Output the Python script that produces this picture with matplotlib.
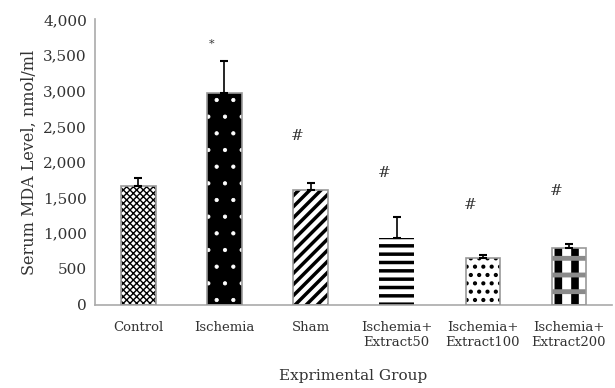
import matplotlib.pyplot as plt
import numpy as np

plt.rcParams['font.family'] = ['DejaVu Serif']
plt.rcParams['text.color'] = '#333333'
plt.rcParams['xtick.color'] = '#333333'
plt.rcParams['ytick.color'] = '#333333'
plt.rcParams['axes.labelcolor'] = '#333333'

groups = ["Control", "Ischemia", "Sham", "Ischemia+\nExtract50",
          "Ischemia+\nExtract100", "Ischemia+\nExtract200"]
mda = [1670, 2970, 1610, 940, 660, 800]
sd = [110, 450, 90, 295, 40, 56]
marks = ["", "*", "#", "#", "#", "#"]
mark_y = [None, 3660, 2360, 1840, 1390, 1600]

# layers per bar: (fill, hatch colour, hatch pattern, hatch line width)
styles = [
    [("white", "black", "xxxxx", 1.0)],
    [("black", "white", ".", 0.6)],
    [("white", "black", "///", 2.5)],
    [("white", "black", "--", 2.5)],
    [("white", "black", "..", 1.8)],
    [("white", "black", "|", 5.5), ("none", "#8a8a8a", "-", 3.5)],
]

fig, ax = plt.subplots(figsize=(6.15, 3.88), dpi=100)
fig.subplots_adjust(left=0.155, right=0.995, top=0.95, bottom=0.215)

x = np.arange(len(groups))
for i, layers in enumerate(styles):
    for face, hc, h, hlw in layers:
        with plt.rc_context({'hatch.linewidth': hlw}):
            ax.bar(x[i], mda[i], width=0.4, color=face, edgecolor=hc,
                   hatch=h, linewidth=0, zorder=2)
    if i != 3:
        ax.bar(x[i], mda[i], width=0.4, fill=False, edgecolor="#999999",
               linewidth=1.2, zorder=3)

ax.errorbar(x, mda, yerr=[np.zeros(len(sd)), sd], fmt="none", ecolor="black",
            elinewidth=1.2, capsize=3, capthick=1.5, zorder=4)

for i, m in enumerate(marks):
    if m:
        ax.text(x[i] - 0.15, mark_y[i], m, ha="center", va="center",
                fontsize=11 if m == "#" else 8)

ax.set_xlim(-0.5, 5.5)
ax.set_ylim(0, 4000)
ax.set_yticks(range(0, 4001, 500))
ax.set_yticklabels([f"{v:,}" for v in range(0, 4001, 500)], fontsize=11)
ax.set_xticks(x)
ax.set_xticklabels(groups, fontsize=9.5)
ax.tick_params(length=0, pad=6)
ax.tick_params(axis="x", pad=12)

for s in ["top", "right"]:
    ax.spines[s].set_visible(False)
for s in ["left", "bottom"]:
    ax.spines[s].set_color("#aaaaaa")
    ax.spines[s].set_linewidth(1.2)

ax.set_ylabel("Serum MDA Level, nmol/ml", fontsize=11.5)
ax.set_xlabel("Exprimental Group", fontsize=11, labelpad=14)

plt.savefig("out.png")
